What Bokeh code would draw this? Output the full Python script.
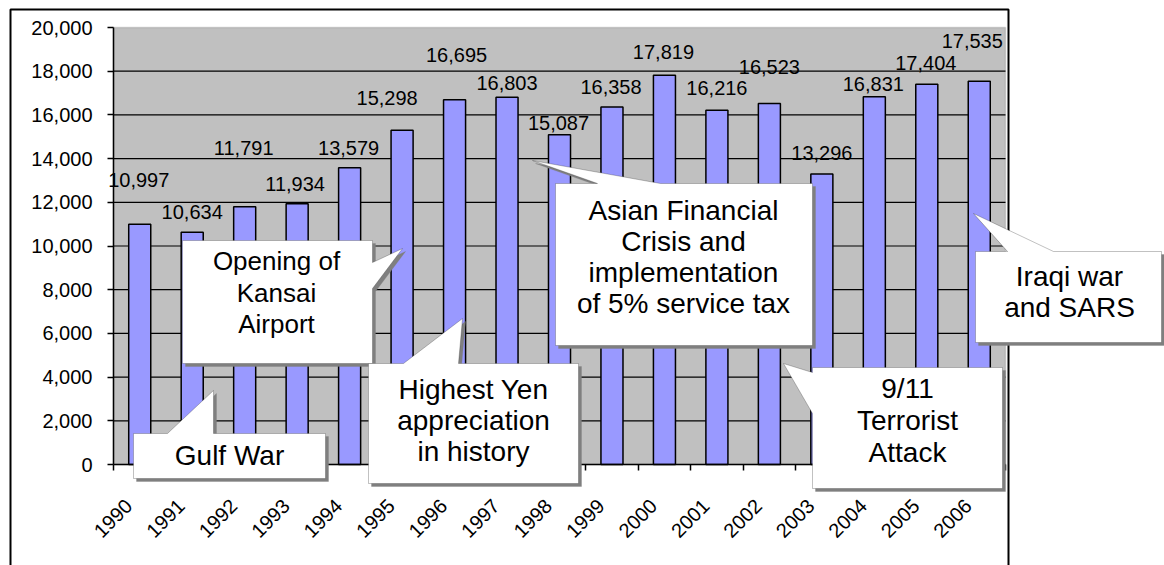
import math
from bokeh.plotting import figure
from bokeh.models import (FixedTicker, NumeralTickFormatter, LinearAxis, Range1d,
                          Label, PolyAnnotation, BoxAnnotation)
from bokeh.core.properties import value
from bokeh.embed import file_html
from bokeh.resources import INLINE

# ---------------- data ----------------
years = ["1990", "1991", "1992", "1993", "1994", "1995", "1996", "1997", "1998",
         "1999", "2000", "2001", "2002", "2003", "2004", "2005", "2006"]
visitors = [10997, 10634, 11791, 11934, 13579, 15298, 16695, 16803, 15087,
            16358, 17819, 16216, 16523, 13296, 16831, 17404, 17535]
y_ticks = [0, 2000, 4000, 6000, 8000, 10000, 12000, 14000, 16000, 18000, 20000]

callout_texts = ["Gulf War",
                 "Opening of\nKansai\nAirport",
                 "Highest Yen\nappreciation\nin history",
                 "Asian Financial\nCrisis and\nimplementation\nof 5% service tax",
                 "9/11\nTerrorist\nAttack",
                 "Iraqi war\nand SARS"]

# ---------------- layout (pixels) ----------------
W, H = 1164, 565
PL, PB, PW, PH = 113, 464, 892, 437      # plot-area left, bottom(0 line), width, height
N = len(years)
YMAX = y_ticks[-1]
PXU = PW / N          # px per category
PYU = PH / YMAX       # px per visitor unit
FONT = value("Liberation Sans")
XLABEL_SHIFT = -11    # px, rotated year labels sit a little left of the bar centre

# data-label nudges in px
label_dx = [-1, 0, -1, -2, -1, -15, 2, 0, -1, -1, -1, 0, 0, 0, -1, -1, -7]
label_dy = [44, 20, 59, 20, 20, 32, 45, 14, 12, 20, 23, 22, 36, 21, 13, 21, 40]

# callout outlines in page pixels
callout_shapes = [
    [(133, 433), (167, 433), (213, 390), (213, 433), (325, 433), (325, 478), (133, 478)],
    [(182, 240), (372, 240), (372, 262), (402, 248), (372, 288), (372, 363), (182, 363)],
    [(368, 363), (403, 363), (462, 318), (458, 363), (578, 363), (578, 483), (368, 483)],
    [(555, 183), (597, 183), (532, 160), (660, 183), (812, 183), (812, 345), (555, 345)],
    [(812, 367), (1002, 367), (1002, 488), (812, 488), (812, 413), (783, 363), (812, 372)],
    [(975, 251), (1007, 251), (973, 213), (1053, 251), (1161, 251), (1161, 342), (975, 342)],
]
callout_text_pos = [(229, 455), (276, 292), (473, 420), (683, 256), (907, 420), (1069, 291)]
callout_font = ["28px", "26px", "28px", "28px", "28px", "28px"]
callout_lh = [1.0, 1.05, 1.0, 1.0, 1.03, 1.0]


def px2x(px):
    return (px - PL) / PXU


def px2y(py):
    return (PB - py) / PYU


p = figure(width=W, height=H, output_backend="svg", toolbar_location=None,
           x_range=Range1d(px2x(0), px2x(W)), y_range=Range1d(px2y(H), px2y(0)),
           x_axis_type=None, y_axis_type=None,
           min_border=0, min_border_left=0, min_border_right=0,
           min_border_top=0, min_border_bottom=0,
           background_fill_color="white", border_fill_color="white")
p.outline_line_color = None

# plot area
p.add_layout(BoxAnnotation(left=0, right=N, bottom=0, top=YMAX, level="underlay",
                           fill_color="#C0C0C0", fill_alpha=1,
                           line_color="#808080", line_width=1.5))

# horizontal gridlines
p.segment(x0=0, x1=N, y0=y_ticks[1:-1], y1=y_ticks[1:-1], line_color="black", line_width=1.2)

# y axis
ya = LinearAxis(ticker=FixedTicker(ticks=y_ticks), formatter=NumeralTickFormatter(format="0,0"),
                fixed_location=0, bounds=(0, YMAX),
                major_tick_out=6, major_tick_in=0, minor_tick_line_color=None,
                axis_line_color="black", axis_line_width=1.5,
                major_tick_line_color="black", major_tick_line_width=1.5,
                major_label_text_font="Liberation Sans", major_label_text_font_size="20px",
                major_label_text_color="black", major_label_standoff=15)
p.add_layout(ya, "left")

centers = [i + 0.5 for i in range(N)]
p.vbar(x=centers, top=visitors, width=0.42, bottom=0,
       fill_color="#9999FF", line_color="black", line_width=1.5)

p.text(x=centers, y=visitors, text=[f"{v:,}" for v in visitors],
       x_offset=label_dx, y_offset=[-d for d in label_dy],
       text_align="center", text_baseline="middle",
       text_font=FONT, text_font_size="20px", text_color="black")

# x axis: tick marks at category boundaries
xa = LinearAxis(ticker=FixedTicker(ticks=list(range(N + 1))),
                fixed_location=0, bounds=(0, N),
                major_tick_out=6, major_tick_in=0,
                minor_tick_line_color=None,
                axis_line_color="black", axis_line_width=1.5,
                major_tick_line_color="black", major_tick_line_width=1.5,
                major_label_text_font_size="1px", major_label_text_color=None,
                major_label_standoff=0)
p.add_layout(xa, "below")
# x axis: rotated year labels near category centres
label_ticks = [c + XLABEL_SHIFT / PXU for c in centers]
xb = LinearAxis(ticker=FixedTicker(ticks=label_ticks),
                major_label_overrides={t: y for t, y in zip(label_ticks, years)},
                fixed_location=0, bounds=(-1, N),
                major_label_orientation=math.pi / 4,
                major_tick_line_color=None, major_tick_out=0, major_tick_in=0,
                minor_tick_line_color=None, axis_line_color=None,
                major_label_standoff=38,
                major_label_text_font="Liberation Sans",
                major_label_text_font_size="20px",
                major_label_text_color="black")
p.add_layout(xb, "below")

# chart-area border
p.add_layout(BoxAnnotation(left=px2x(10), right=px2x(1008), top=px2y(9), bottom=px2y(800),
                           fill_color=None, fill_alpha=0, line_color="black", line_width=2,
                           line_alpha=1))

# callouts
for shape, txt, (tx, ty), fs, lh in zip(callout_shapes, callout_texts, callout_text_pos,
                                        callout_font, callout_lh):
    sh = PolyAnnotation(xs=[px2x(x + 3) for x, y in shape], ys=[px2y(y + 3) for x, y in shape],
                        fill_color="#7F7F7F", fill_alpha=1, line_color="#7F7F7F", line_width=1)
    box = PolyAnnotation(xs=[px2x(x) for x, y in shape], ys=[px2y(y) for x, y in shape],
                         fill_color="white", fill_alpha=1, line_color="#333333", line_width=1)
    p.add_layout(sh)
    p.add_layout(box)
    p.add_layout(Label(x=px2x(tx), y=px2y(ty), text=txt, text_align="center",
                       text_baseline="middle", text_font="Liberation Sans",
                       text_font_size=fs, text_color="black",
                       text_line_height=lh))

open("out.html", "w").write(file_html(p, INLINE))
